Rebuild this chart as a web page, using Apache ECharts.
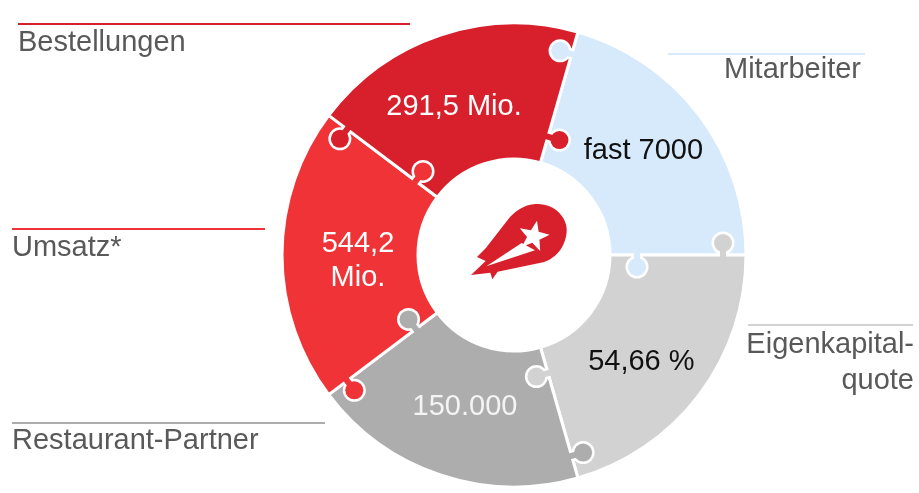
<!DOCTYPE html>
<html>
<head>
<meta charset="utf-8">
<style>
  html, body { margin: 0; padding: 0; background: #fff; }
  #chart { width: 919px; height: 493px; }
</style>
<script src="https://cdn.jsdelivr.net/npm/echarts@6/dist/echarts.min.js"></script>
</head>
<body>
<div id="chart"></div>
<script>
// segments clockwise, starting at the top-right boundary
var categories = ['Mitarbeiter', 'Eigenkapital-\nquote', 'Restaurant-Partner', 'Umsatz*', 'Bestellungen'];
var arcShares = [74, 74, 69, 74, 69];          // degrees of each puzzle piece
var valueLabels = ['fast 7000', '54,66 %', '150.000', '544,2\nMio.', '291,5 Mio.'];
var colors = ['#d6eafc', '#d2d2d2', '#adadad', '#ef3337', '#d7202b'];
var labelColors = ['#111', '#111', '#f4f4f4', '#fff', '#fff'];

var FONT = '"Liberation Sans", Arial, sans-serif';
var cx = 514, cy = 255, rIn = 96, rOut = 232;
var firstBoundary = 16;   // degrees clockwise from 12 o'clock
var labelNudge = [[-4, -3], [-6, 6], [4, -6], [11, 6], [-7, 10]];

// logo outline, coordinates at 3x of a 115x90 box
echarts.graphic.registerShape('dhLogo', echarts.graphic.extendShape({
    shape: {},
    buildPath: function (ctx) {
        ctx.moveTo(235, 28);
        ctx.bezierCurveTo(295, 20, 340, 68, 335, 112);
        ctx.bezierCurveTo(330, 165, 292, 200, 250, 205);
        ctx.lineTo(128, 230);
        ctx.lineTo(112, 253);
        ctx.lineTo(106, 233);
        ctx.lineTo(48, 240);
        ctx.lineTo(92, 198);
        ctx.lineTo(66, 186);
        ctx.lineTo(92, 160);
        ctx.lineTo(165, 66);
        ctx.bezierCurveTo(186, 45, 210, 30, 235, 28);
        ctx.closePath();
    }
}));

var chart = echarts.init(document.getElementById('chart'));

// side captions with their coloured rules
var captions = [
    { idx: 4, x1: 18, x2: 410, ly: 24, tx: 18, ty: 25, align: 'left' },
    { idx: 0, x1: 668, x2: 865, ly: 54, tx: 861, ty: 52, align: 'right' },
    { idx: 3, x1: 12, x2: 265, ly: 229, tx: 12, ty: 230, align: 'left' },
    { idx: 1, x1: 748, x2: 913, ly: 325, tx: 914, ty: 327, align: 'right' },
    { idx: 2, x1: 12, x2: 325, ly: 423, tx: 12, ty: 423, align: 'left' }
];

var graphics = [];
captions.forEach(function (c) {
    graphics.push({
        type: 'line', z: 10,
        shape: { x1: c.x1, y1: c.ly, x2: c.x2, y2: c.ly },
        style: { stroke: colors[c.idx], lineWidth: 2 }
    });
    graphics.push({
        type: 'text', z: 10,
        style: {
            x: c.tx, y: c.ty, text: categories[c.idx],
            font: '29px ' + FONT, fill: '#595959',
            align: c.align, verticalAlign: 'top', lineHeight: 36
        }
    });
});

// puzzle knobs on every boundary between two pieces
function pt(r, deg, off) {
    var a = deg * Math.PI / 180;
    return [cx + r * Math.sin(a) + off * Math.cos(a), cy - r * Math.cos(a) + off * Math.sin(a)];
}
function neck(r, deg, o1, o2, hw) {
    return [pt(r - hw, deg, o1), pt(r + hw, deg, o1), pt(r + hw, deg, o2), pt(r - hw, deg, o2)];
}
function knob(r, deg, side, fill) {
    var d = 12;
    var c = pt(r, deg, side * d);
    graphics.push({ type: 'circle', z: 20, shape: { cx: c[0], cy: c[1], r: 11.5 }, style: { fill: '#fff' } });
    graphics.push({ type: 'polygon', z: 20, shape: { points: neck(r, deg, 0, side * d, 5.5) }, style: { fill: '#fff' } });
    graphics.push({ type: 'polygon', z: 21, shape: { points: neck(r, deg, -side * 3, side * d, 3) }, style: { fill: fill } });
    graphics.push({ type: 'circle', z: 21, shape: { cx: c[0], cy: c[1], r: 9 }, style: { fill: fill } });
}
var ang = firstBoundary;
for (var i = 0; i < arcShares.length; i++) {
    var prev = (i + arcShares.length - 1) % arcShares.length;
    knob(209, ang, -1, colors[i]);      // outer knob reaches into the previous piece
    knob(123, ang, 1, colors[prev]);    // inner knob reaches into the next piece
    ang += arcShares[i];
}

// centre logo (shooting star)
var starPts = [];
for (var k = 0; k < 10; k++) {
    var rr = k % 2 ? 20 : 48;
    var a = (k * 36 + 12) * Math.PI / 180;
    starPts.push([236 + rr * Math.sin(a), 124 - rr * Math.cos(a)]);
}
graphics.push({
    type: 'group', x: 455, y: 195, scaleX: 1 / 3, scaleY: 1 / 3,
    children: [
        { type: 'dhLogo', z: 30, shape: {}, style: { fill: '#d7202b' } },
        { type: 'polygon', z: 31, shape: { points: [[200, 144], [240, 166], [94, 214]] }, style: { fill: '#fff' } },
        { type: 'polygon', z: 31, shape: { points: starPts }, style: { fill: '#fff' } }
    ]
});

var pieData = categories.map(function (name, i) {
    return {
        name: name,
        value: arcShares[i],
        itemStyle: { color: colors[i] },
        label: { formatter: valueLabels[i], color: labelColors[i], offset: labelNudge[i] }
    };
});

chart.setOption({
    animation: false,
    series: [{
        type: 'pie',
        center: [cx, cy],
        radius: [rIn, rOut],
        startAngle: 90 - firstBoundary,
        clockwise: true,
        silent: true,
        itemStyle: { borderColor: '#fff', borderWidth: 3 },
        label: {
            show: true, position: 'inside',
            fontFamily: FONT, fontSize: 29, lineHeight: 34
        },
        labelLine: { show: false },
        data: pieData
    }],
    graphic: graphics
});
</script>
</body>
</html>
